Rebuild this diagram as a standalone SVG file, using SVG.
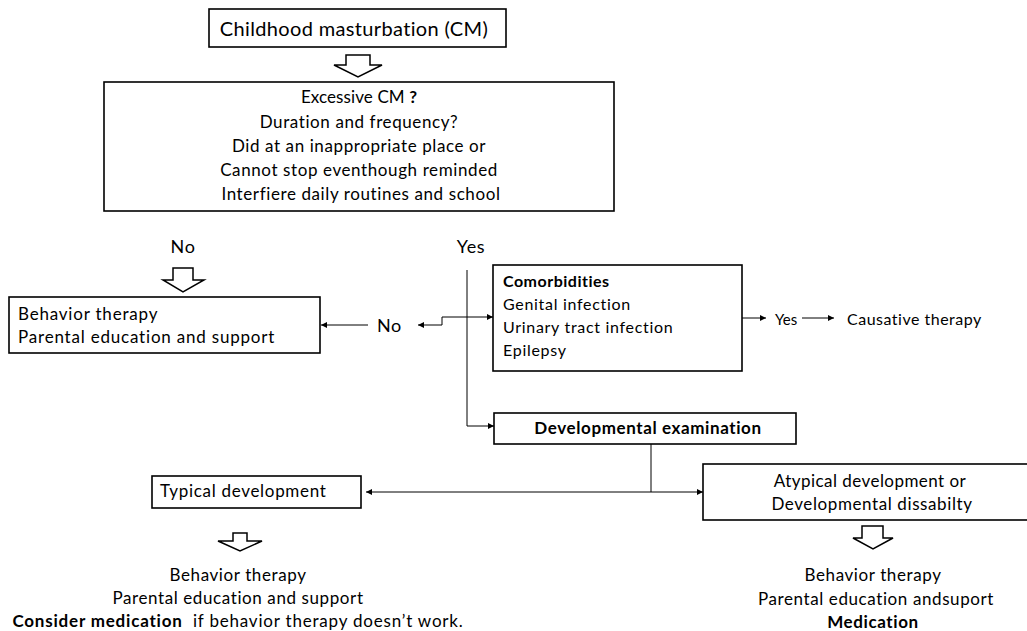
<svg xmlns="http://www.w3.org/2000/svg" width="1027" height="631" viewBox="0 0 1027 631">
<style>
text{font-family:Lato,"Liberation Sans",sans-serif;fill:#000;letter-spacing:0.6px}
.box{fill:#fff;stroke:#000;stroke-width:1.6}
.big{fill:#fff;stroke:#000;stroke-width:1.5;stroke-linejoin:miter}
.c{text-anchor:middle}
.b{font-weight:bold}
.ln{fill:none;stroke:#000;stroke-width:1}
</style>
<defs>
<marker id="ah" viewBox="0 0 10 10" refX="10" refY="5" markerWidth="7" markerHeight="6" markerUnits="userSpaceOnUse" orient="auto">
<path d="M0,0 L10,5 L0,10 z" fill="#000"/>
</marker>
</defs>
<rect width="1027" height="631" fill="#fff"/>
<g id="n-cm">
<rect class="box" x="209" y="9" width="297" height="38"/>
<text class="c" x="354" y="36" font-size="20" style="letter-spacing:0.35px">Childhood masturbation (CM)</text>
</g>
<g id="a1"><polygon class="big" points="346,55 370,55 370,65 382,65 358,77 334,65 346,65"/></g>
<g id="n-excessive">
<rect class="box" x="104" y="82" width="510" height="129"/>
<text class="c" x="359" y="103" font-size="17" style="letter-spacing:0.1px">Excessive CM <tspan class="b">?</tspan></text>
<text class="c" x="359" y="128" font-size="17">Duration and frequency?</text>
<text class="c" x="359" y="152" font-size="17">Did at an inappropriate place or</text>
<text class="c" x="359" y="176" font-size="17">Cannot stop eventhough reminded</text>
<text class="c" x="361" y="200" font-size="17">Interfiere daily routines and school</text>
</g>
<g id="lbl-no1"><text class="c" x="183" y="253" font-size="18">No</text></g>
<g id="lbl-yes1"><text class="c" x="471" y="253" font-size="18">Yes</text></g>
<g id="a2"><polygon class="big" points="173,268 193,268 193,280 204,280 183,292 163,280 173,280"/></g>
<g id="n-bt1">
<rect class="box" x="9" y="297" width="311" height="56"/>
<text x="18" y="320" font-size="17" style="letter-spacing:0.8px">Behavior therapy</text>
<text x="18" y="343" font-size="17" style="letter-spacing:0.8px">Parental education and support</text>
</g>
<g id="lbl-no2"><text x="377" y="332" font-size="18">No</text></g>
<g id="n-comorb">
<rect class="box" x="493" y="265" width="249" height="106"/>
<text class="b" x="503" y="287" font-size="16" style="letter-spacing:0.5px">Comorbidities</text>
<text x="503" y="310" font-size="16" style="letter-spacing:0.7px">Genital infection</text>
<text x="503" y="333" font-size="16" style="letter-spacing:0.7px">Urinary tract infection</text>
<text x="503" y="356" font-size="16" style="letter-spacing:0.7px">Epilepsy</text>
</g>
<g id="lbl-yes2"><text x="775" y="325" font-size="15" style="letter-spacing:0">Yes</text></g>
<g id="n-causative"><text x="847" y="325" font-size="16" style="letter-spacing:0.5px">Causative therapy</text></g>
<g id="n-devexam">
<rect class="box" x="494" y="413" width="302" height="31"/>
<text class="c b" x="648" y="434" font-size="17" style="letter-spacing:0.6px">Developmental examination</text>
</g>
<g id="n-typical">
<rect class="box" x="152" y="476" width="209" height="32"/>
<text x="160" y="497" font-size="17" style="letter-spacing:0.7px">Typical development</text>
</g>
<g id="a3"><polygon class="big" points="233,533 247,533 247,541 262,541 240,551 218,541 233,541"/></g>
<g id="n-typical-tx">
<text class="c" x="238" y="581" font-size="17">Behavior therapy</text>
<text class="c" x="238" y="604" font-size="17">Parental education and support</text>
<text class="c" x="238" y="627" font-size="17" style="letter-spacing:0.8px" xml:space="preserve"><tspan class="b">Consider medication</tspan>  if behavior therapy doesn’t work.</text>
</g>
<g id="n-atypical">
<rect class="box" x="703" y="464" width="340" height="56"/>
<text class="c" x="870" y="487" font-size="17" style="letter-spacing:0.45px">Atypical development or</text>
<text class="c" x="872" y="510" font-size="17" style="letter-spacing:0.6px">Developmental dissabilty</text>
</g>
<g id="a4"><polygon class="big" points="862,526 883,526 883,538 893,538 873,549 853,538 862,538"/></g>
<g id="n-atypical-tx">
<text class="c" x="873" y="581" font-size="17">Behavior therapy</text>
<text class="c" x="876" y="605" font-size="17">Parental education andsuport</text>
<text class="c b" x="873" y="628" font-size="17">Medication</text>
</g>
<g id="connectors">
<line class="ln" x1="467" y1="270" x2="467" y2="426"/>
<line class="ln" x1="442" y1="317" x2="493" y2="317" marker-end="url(#ah)"/>
<polyline class="ln" points="442,317 442,325 418,325" marker-end="url(#ah)"/>
<polyline class="ln" points="467,426 494,426" marker-end="url(#ah)"/>
<line class="ln" x1="368" y1="325" x2="321" y2="325" marker-end="url(#ah)"/>
<line class="ln" x1="742" y1="318" x2="766" y2="318" marker-end="url(#ah)"/>
<line class="ln" x1="802" y1="318" x2="834" y2="318" marker-end="url(#ah)"/>
<line class="ln" x1="651" y1="444" x2="651" y2="492"/>
<line class="ln" x1="651" y1="492" x2="703" y2="492" marker-end="url(#ah)"/>
<line class="ln" x1="651" y1="492" x2="366" y2="492" marker-end="url(#ah)"/>
</g>
</svg>
